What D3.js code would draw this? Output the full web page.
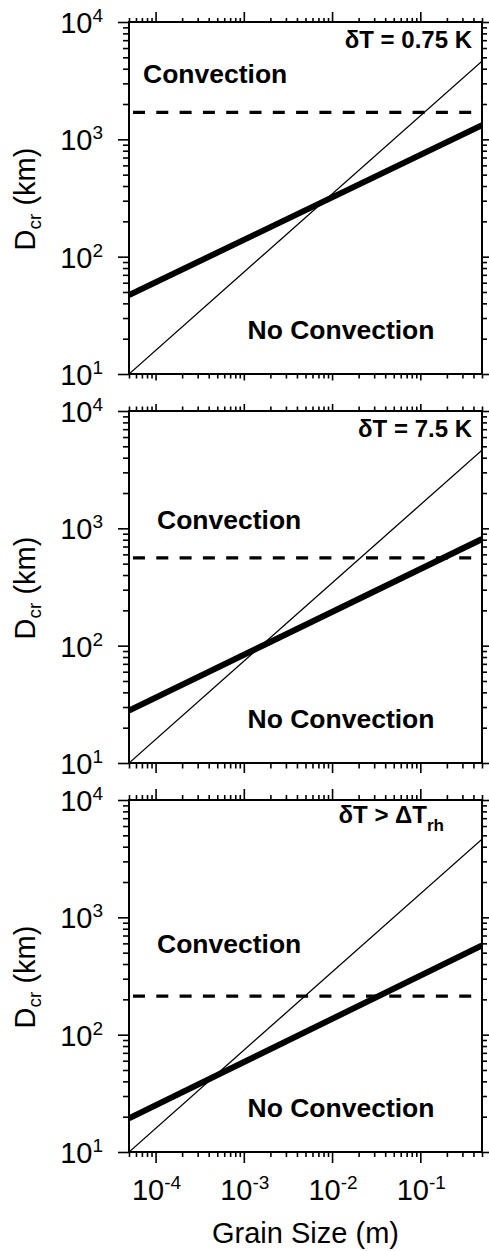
<!DOCTYPE html>
<html>
<head>
<meta charset="utf-8">
<script src="https://cdn.jsdelivr.net/npm/d3@7"></script>
<style>
  body { margin: 0; background: #fff; }
  svg text { font-family: "Liberation Sans", Arial, Helvetica, sans-serif; fill: #000; }
</style>
</head>
<body>
<div id="chart"></div>
<script>
// grain size range (m) shared by all three panels
const grainSize = [5e-5, 0.5];

// thin reference line, same in every panel (km)
const thinLine = [10, 4640];

// thick critical-depth lines per panel (km) at the two grain sizes
const thickPanel1 = [47, 1320];
const thickPanel2 = [28, 810];
const thickPanel3 = [19.4, 575];

// dashed horizontal levels per panel (km)
const dashedLevels = [1700, 560, 213];

const xDomain = [5e-5, 0.5];
const yDomain = [10, 1e4];
const xTickLabels = [1e-4, 1e-3, 1e-2, 1e-1];
const yTickLabels = [10, 100, 1000, 10000];

const W = 489, H = 1251;
const left = 129, plotW = 353, plotH = 352;
const panelTops = [22, 411, 800];

const panels = [
  { thick: thickPanel1, dashed: dashedLevels[0], title: "δT = 0.75 K", conv: [14, 61],
    topTick: [10, 4], botTick: [6.5, 4.5] },
  { thick: thickPanel2, dashed: dashedLevels[1], title: "δT = 7.5 K", conv: [28, 118],
    topTick: [7, 4.5], botTick: [10, 5.5] },
  { thick: thickPanel3, dashed: dashedLevels[2], title: null, conv: [28, 153],
    topTick: [11, 5], botTick: [11, 5] }
];

const svg = d3.select("#chart").append("svg")
  .attr("width", W)
  .attr("height", H);

const x = d3.scaleLog().domain(xDomain).range([0, plotW]);
const y = d3.scaleLog().domain(yDomain).range([plotH, 0]);

const isMajor = d => Math.abs(Math.log10(d) - Math.round(Math.log10(d))) < 1e-6;

const line = d3.line()
  .x(d => x(d[0]))
  .y(d => y(d[1]));

// superscript power-of-ten label
function powLabel(sel, v) {
  const e = Math.round(Math.log10(v));
  sel.append("tspan").text("10");
  sel.append("tspan").attr("dy", -11).attr("font-size", 19).text(String(e));
}

panels.forEach((p, i) => {
  const g = svg.append("g")
    .attr("transform", `translate(${left}, ${panelTops[i]})`);

  g.append("clipPath").attr("id", "clip" + i)
    .append("rect").attr("width", plotW).attr("height", plotH);

  const plot = g.append("g").attr("clip-path", `url(#clip${i})`);

  // thin line
  plot.append("path")
    .datum(grainSize.map((d, k) => [d, thinLine[k]]))
    .attr("d", line)
    .attr("fill", "none")
    .attr("stroke", "#000")
    .attr("stroke-width", 1.3);

  // dashed level
  plot.append("path")
    .datum(grainSize.map(d => [d, p.dashed]))
    .attr("d", line)
    .attr("fill", "none")
    .attr("stroke", "#000")
    .attr("stroke-width", 3.2)
    .attr("stroke-dasharray", "12,11.3")
    .attr("stroke-dashoffset", 19.3);

  // thick line
  plot.append("path")
    .datum(grainSize.map((d, k) => [d, p.thick[k]]))
    .attr("d", line)
    .attr("fill", "none")
    .attr("stroke", "#000")
    .attr("stroke-width", 6);

  // axes (ticks only)
  const axes = [
    { ax: d3.axisBottom(x).tickValues(x.ticks()), tr: `translate(0,${plotH})`, len: p.botTick, attr: "y2", sign: 1 },
    { ax: d3.axisTop(x).tickValues(x.ticks()), tr: null, len: p.topTick, attr: "y2", sign: -1 },
    { ax: d3.axisLeft(y).tickValues(y.ticks()), tr: null, len: [11, 6], attr: "x2", sign: -1 },
    { ax: d3.axisRight(y).tickValues(y.ticks()), tr: `translate(${plotW},0)`, len: [8, 5], attr: "x2", sign: 1 }
  ];
  axes.forEach(a => {
    const ag = g.append("g")
      .attr("transform", a.tr)
      .call(a.ax.tickFormat("").tickSizeOuter(0));
    ag.select(".domain").remove();
    ag.selectAll(".tick line")
      .attr(a.attr, d => a.sign * (isMajor(d) ? a.len[0] : a.len[1]))
      .attr("stroke", "#000")
      .attr("stroke-width", 1.6);
  });

  // frame
  g.append("rect")
    .attr("width", plotW)
    .attr("height", plotH)
    .attr("fill", "none")
    .attr("stroke", "#000")
    .attr("stroke-width", 2);

  // y tick labels
  yTickLabels.forEach(v => {
    const t = g.append("text")
      .attr("x", -26)
      .attr("y", y(v) + 11)
      .attr("text-anchor", "end")
      .attr("font-size", 29);
    powLabel(t, v);
  });

  // y axis title, centred on the panel
  const yl = svg.append("text")
    .attr("transform", `translate(35, ${panelTops[i] + plotH / 2 + 1}) rotate(-90)`)
    .attr("text-anchor", "middle")
    .attr("font-size", 29);
  yl.append("tspan").text("D");
  yl.append("tspan").attr("font-size", 19).attr("dy", 6).text("cr");
  yl.append("tspan").attr("dy", -6).text(" (km)");

  // region labels
  g.append("text")
    .attr("x", p.conv[0])
    .attr("y", p.conv[1])
    .attr("font-size", 26.5)
    .attr("font-weight", "bold")
    .text("Convection");

  g.append("text")
    .attr("x", 212)
    .attr("y", 317)
    .attr("text-anchor", "middle")
    .attr("font-size", 26.5)
    .attr("font-weight", "bold")
    .text("No Convection");

  // panel title
  if (p.title) {
    g.append("text")
      .attr("x", plotW - 10)
      .attr("y", 26)
      .attr("text-anchor", "end")
      .attr("font-size", 24)
      .attr("font-weight", "bold")
      .text(p.title);
  } else {
    const t = g.append("text")
      .attr("x", plotW - 38)
      .attr("y", 23)
      .attr("text-anchor", "end")
      .attr("font-size", 24)
      .attr("font-weight", "bold");
    t.append("tspan").text("δT > ΔT");
    t.append("tspan").attr("font-size", 17).attr("dy", 8).text("rh");
  }

  // x tick labels on the last panel only
  if (i === panels.length - 1) {
    xTickLabels.forEach(v => {
      const t = g.append("text")
        .attr("x", x(v) + 1)
        .attr("y", plotH + 48)
        .attr("text-anchor", "middle")
        .attr("font-size", 29);
      powLabel(t, v);
      t.select("tspan:nth-child(2)").text("-" + Math.abs(Math.round(Math.log10(v))));
    });

    g.append("text")
      .attr("x", plotW / 2)
      .attr("y", plotH + 91)
      .attr("text-anchor", "middle")
      .attr("font-size", 29)
      .text("Grain Size (m)");
  }
});
</script>
</body>
</html>
